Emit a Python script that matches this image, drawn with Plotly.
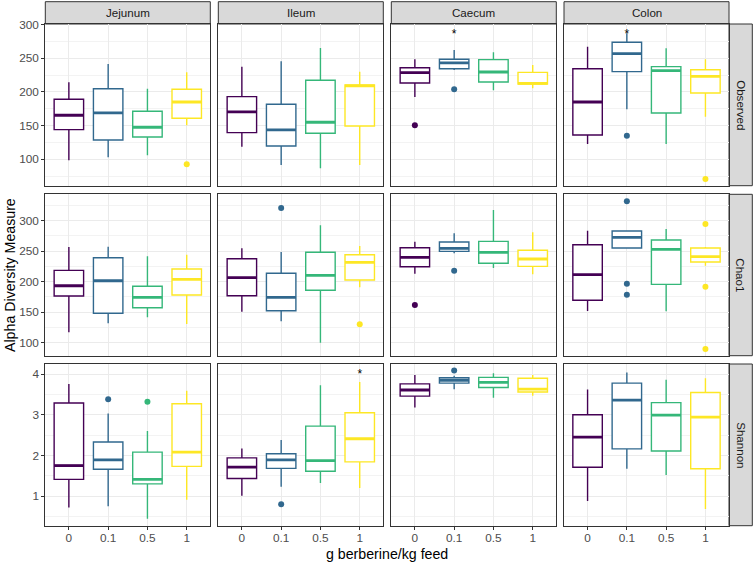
import plotly.graph_objects as go
from plotly.subplots import make_subplots

segments = ["Jejunum", "Ileum", "Caecum", "Colon"]
metrics = ["Observed", "Chao1", "Shannon"]
doses = ["0", "0.1", "0.5", "1"]
colors = ["#440154", "#31688E", "#35B779", "#FDE725"]

# box stats, one row per segment, one value per dose
observed_low = [[98.5, 103, 106, 150.4], [118.7, 91.5, 86.6, 91.5], [192.4, 232.5, 202.4, 205.3], [122.7, 174.2, 122.7, 163.2]]
observed_q1 = [[144, 128.6, 133, 160.8], [139.5, 119.7, 138.6, 149.4], [213.2, 234.4, 214.7, 211.7], [136, 230, 168.7, 198.4]]
observed_med = [[165.3, 168.7, 147.5, 185], [170.2, 143.5, 154.9, 208.8], [228.5, 242.9, 229.5, 212.5], [185, 256.7, 231.5, 223.1]]
observed_q3 = [[189, 204.7, 171.2, 203.9], [192.9, 181.6, 217.2, 210.2], [235.9, 248.4, 247.8, 229], [234.4, 273.6, 237.4, 232.9]]
observed_high = [[214.2, 241.4, 204.7, 229], [237.4, 245.4, 265.1, 230], [248.4, 262.2, 258.8, 239.9], [267.1, 287, 264.7, 248.4]]
observed_out = [("Jejunum", "1", 92.6), ("Caecum", "0", 150.4), ("Caecum", "0.1", 203.9),
                ("Colon", "0.1", 135), ("Colon", "1", 70.8)]

chao1_low = [[117, 131.8, 141.6, 130.7], [150.8, 135, 100, 190.8], [213.1, 246.6, 222.5, 212.1], [152, 254.1, 151.5, 226.2]]
chao1_q1 = [[176.6, 148.2, 157.4, 178.2], [177, 152.5, 185.9, 202.8], [224.6, 249.8, 230.2, 225.2], [169.5, 255.2, 195.7, 232.3]]
chao1_med = [[193.4, 201.6, 174.4, 203.9], [206.6, 174.4, 210.5, 231.8], [240, 254.8, 248.2, 237.2], [211.5, 272.8, 253.1, 241]]
chao1_q3 = [[218.6, 239.3, 192.5, 220.8], [237.7, 213.8, 248.2, 244.3], [255.7, 265.1, 266.2, 251.5], [260.7, 283.1, 268.4, 255.2]]
chao1_high = [[256.9, 257.4, 241.6, 244.3], [254.8, 248.7, 292.5, 258.5], [265.6, 279.3, 317.5, 281], [283.6, 283.6, 286.4, 257]]
chao1_out = [("Ileum", "0.1", 320.8), ("Ileum", "1", 130.2), ("Caecum", "0", 161.8), ("Caecum", "0.1", 218),
             ("Colon", "0.1", 331.8), ("Colon", "0.1", 196.7), ("Colon", "0.1", 178.7),
             ("Colon", "1", 294.6), ("Colon", "1", 191.8), ("Colon", "1", 89.7)]

shannon_low = [[0.72, 0.75, 0.44, 0.91], [1.01, 1.23, 1.32, 1.2], [3.18, 3.63, 3.42, 3.47], [0.88, 1.67, 1.52, 0.68]]
shannon_q1 = [[1.41, 1.66, 1.3, 1.73], [1.43, 1.68, 1.61, 1.84], [3.46, 3.78, 3.67, 3.56], [1.71, 2.16, 2.11, 1.67]]
shannon_med = [[1.75, 1.89, 1.41, 2.08], [1.71, 1.89, 1.87, 2.41], [3.61, 3.85, 3.8, 3.63], [2.45, 3.36, 2.99, 2.94]]
shannon_q3 = [[3.29, 2.33, 2.08, 3.27], [1.94, 2.04, 2.72, 3.05], [3.76, 3.91, 3.92, 3.9], [3.0, 3.78, 3.3, 3.55]]
shannon_high = [[3.76, 3.03, 2.6, 3.59], [2.17, 2.38, 3.73, 3.81], [3.98, 3.96, 4.02, 3.98], [3.62, 4.04, 3.86, 3.9]]
shannon_out = [("Jejunum", "0.1", 3.38), ("Jejunum", "0.5", 3.32), ("Ileum", "0.1", 0.8), ("Caecum", "0.1", 4.09)]

stars = [("Observed", "Caecum", "0.1", 292.6), ("Observed", "Colon", "0.1", 292.6), ("Shannon", "Ileum", "1", 4.13)]

row_ranges = [[60.8, 300.7], [78.7, 343.3], [0.27, 4.25]]
row_dtick = [50, 50, 1]

stats = {
    "Observed": (observed_low, observed_q1, observed_med, observed_q3, observed_high, observed_out),
    "Chao1": (chao1_low, chao1_q1, chao1_med, chao1_q3, chao1_high, chao1_out),
    "Shannon": (shannon_low, shannon_q1, shannon_med, shannon_q3, shannon_high, shannon_out),
}

W, H = 754, 563
col_px = [(45.3, 210.3), (218.3, 383.3), (391.3, 556.3), (564, 729)]
row_px = [(24, 185.7), (194.3, 355.7), (364, 525.7)]
BW = 0.75
font = "Liberation Sans, Arial, sans-serif"

fig = make_subplots(rows=3, cols=4)
pos = {d: i + 1 for i, d in enumerate(doses)}

for r, m in enumerate(metrics):
    low, q1, med, q3, high, outs = stats[m]
    for c, seg in enumerate(segments):
        for k, d in enumerate(doses):
            p = pos[d]
            fig.add_trace(go.Box(x=[p], q1=[q1[c][k]], median=[med[c][k]], q3=[q3[c][k]],
                                 lowerfence=[low[c][k]], upperfence=[high[c][k]],
                                 width=BW, whiskerwidth=0, fillcolor="white",
                                 line=dict(color=colors[k], width=1.4), boxpoints=False,
                                 hoverinfo="skip", showlegend=False), row=r + 1, col=c + 1)
            # thicker median like ggplot
            fig.add_trace(go.Scatter(x=[p - BW / 2, p + BW / 2], y=[med[c][k]] * 2, mode="lines",
                                     line=dict(color=colors[k], width=2.8), hoverinfo="skip",
                                     showlegend=False), row=r + 1, col=c + 1)
        pts = [o for o in outs if o[0] == seg]
        if pts:
            fig.add_trace(go.Scatter(x=[pos[o[1]] for o in pts], y=[o[2] for o in pts], mode="markers",
                                     marker=dict(size=6, color=[colors[doses.index(o[1])] for o in pts]),
                                     hoverinfo="skip", showlegend=False), row=r + 1, col=c + 1)
        st = [s for s in stars if s[0] == m and s[1] == seg]
        if st:
            fig.add_trace(go.Scatter(x=[pos[s[2]] for s in st], y=[s[3] for s in st], mode="text",
                                     text=["*"] * len(st), textposition="bottom center",
                                     textfont=dict(size=12, color="black", family=font),
                                     hoverinfo="skip", showlegend=False), row=r + 1, col=c + 1)

for r in range(3):
    for c in range(4):
        idx = r * 4 + c + 1
        xa = "xaxis" if idx == 1 else "xaxis%d" % idx
        ya = "yaxis" if idx == 1 else "yaxis%d" % idx
        x0, x1 = col_px[c]
        y0, y1 = row_px[r]
        fig.layout[xa].update(domain=[x0 / W, x1 / W], range=[0.4, 4.6], tickmode="array",
                              tickvals=[1, 2, 3, 4], ticktext=doses, showticklabels=(r == 2),
                              ticks="outside" if r == 2 else "", ticklen=3, tickcolor="#333333",
                              ticklabelstandoff=-2,
                              showgrid=True, gridcolor="#EBEBEB", gridwidth=1, zeroline=False,
                              showline=True, mirror=True, linecolor="#333333", linewidth=1,
                              automargin=False,
                              tickfont=dict(size=11.8, color="#4D4D4D", family=font))
        fig.layout[ya].update(domain=[1 - y1 / H, 1 - y0 / H], range=row_ranges[r], tickmode="linear",
                              tick0=0, dtick=row_dtick[r], showticklabels=(c == 0),
                              ticks="outside" if c == 0 else "", ticklen=3, tickcolor="#333333",
                              showgrid=True, gridcolor="#EBEBEB", gridwidth=1, zeroline=False,
                              minor=dict(tick0=0, dtick=row_dtick[r] / 2, showgrid=True,
                                         gridcolor="#F3F3F3", gridwidth=0.6),
                              showline=True, mirror=True, linecolor="#333333", linewidth=1,
                              automargin=False,
                              tickfont=dict(size=11.8, color="#4D4D4D", family=font))

shapes = []
annotations = []
for c, seg in enumerate(segments):
    x0, x1 = col_px[c]
    shapes.append(dict(type="rect", xref="paper", yref="paper", x0=x0 / W, x1=x1 / W,
                       y0=1 - 24 / H, y1=1 - 1.7 / H, fillcolor="#D9D9D9",
                       line=dict(color="#333333", width=1), layer="below"))
    annotations.append(dict(text=seg, xref="paper", yref="paper", x=(x0 + x1) / 2 / W,
                            y=1 - 13 / H, xanchor="center", yanchor="middle", showarrow=False,
                            font=dict(size=11.6, color="#1A1A1A", family=font)))
for r, m in enumerate(metrics):
    y0, y1 = row_px[r]
    shapes.append(dict(type="rect", xref="paper", yref="paper", x0=729 / W, x1=752.3 / W,
                       y0=1 - y1 / H, y1=1 - y0 / H, fillcolor="#D9D9D9",
                       line=dict(color="#333333", width=1), layer="below"))
    annotations.append(dict(text=m, xref="paper", yref="paper", x=740.7 / W, y=1 - (y0 + y1) / 2 / H,
                            xanchor="center", yanchor="middle", textangle=90, showarrow=False,
                            font=dict(size=11.6, color="#1A1A1A", family=font)))

annotations.append(dict(text="g berberine/kg feed", xref="paper", yref="paper", x=387 / W, y=1 - 554 / H,
                        xanchor="center", yanchor="middle", showarrow=False,
                        font=dict(size=14.2, color="black", family=font)))
annotations.append(dict(text="Alpha Diversity Measure", xref="paper", yref="paper", x=10 / W, y=1 - 275 / H,
                        xanchor="center", yanchor="middle", textangle=-90, showarrow=False,
                        font=dict(size=14.2, color="black", family=font)))

fig.update_layout(width=W, height=H, margin=dict(l=0, r=0, t=0, b=0, autoexpand=False),
                  plot_bgcolor="white", paper_bgcolor="white", shapes=shapes, annotations=annotations,
                  showlegend=False, font=dict(family=font))

# pin the graph to the top-left corner of the page
pin = ("document.body.style.margin='0';"
       "var g=document.getElementById('{plot_id}');"
       "g.style.position='fixed';g.style.top='0';g.style.left='0';")
fig.write_html("out.html", config={"displayModeBar": False}, post_script=pin)
